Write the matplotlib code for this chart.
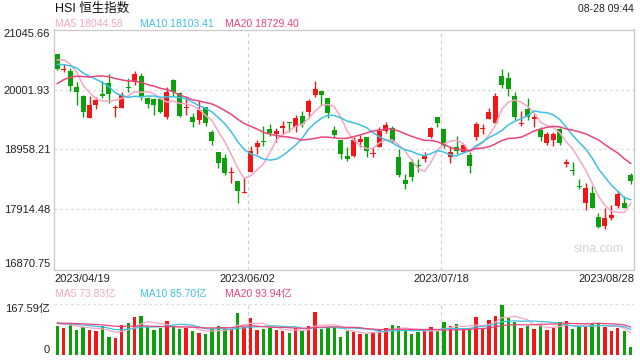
import matplotlib
matplotlib.use('Agg')
from matplotlib import pyplot as plt
import pandas as pd
import numpy as np

plt.rcParams['font.family'] = ['Liberation Sans', 'Noto Sans CJK SC', 'DejaVu Sans']

# HSI daily candles 2023/04/19 - 2023/08/28
opens = [20619, 20345, 20324, 20051, 19894, 19511, 19732, 19923, 20109, 19685,
         19685, 20040, 20127, 20237, 19859, 19836, 19836, 19518, 20167, 19935,
         19685, 19529, 19471, 19692, 19267, 18919, 18815, 18554, 18410, 18196,
         18566, 19006, 19106, 19314, 19227, 19337, 19436, 19354, 19541, 19616,
         19906, 19976, 19849, 19297, 19123, 18845, 18845, 19088, 19170, 18885,
         19006, 19285, 19337, 18832, 18427, 18746, 18676, 18792, 19170, 19518,
         19309, 18822, 18996, 18919, 18862, 19170, 19320, 19488, 19413, 20242,
         20196, 19889, 19405, 19657, 19483, 19297, 19065, 19123, 19314, 18706,
         18604, 18330, 18022, 18196, 17788, 17627, 17761, 17975, 18032, 18514]
highs = [20625, 20445, 20371, 20137, 19906, 19894, 19877, 20150, 20266, 19732,
         19953, 20197, 20324, 20284, 19877, 19859, 19859, 20050, 20184, 19963,
         19877, 19598, 19802, 19700, 19297, 18919, 18874, 18658, 18410, 18457,
         19019, 19123, 19367, 19396, 19327, 19454, 19436, 19558, 19633, 19831,
         20150, 19976, 19849, 19372, 19123, 18996, 19170, 19210, 19180, 18996,
         19355, 19436, 19367, 18961, 18526, 18792, 18792, 18909, 19355, 19529,
         19309, 18996, 19193, 19066, 18919, 19442, 19401, 19674, 19935, 20353,
         20311, 19963, 19633, 19849, 19575, 19355, 19267, 19267, 19327, 18792,
         18746, 18439, 18380, 18323, 17858, 17945, 17992, 18236, 18149, 18554]
lows = [20341, 20306, 19976, 19732, 19529, 19511, 19662, 19859, 19762, 19529,
        19675, 19963, 20080, 19819, 19685, 19558, 19587, 19488, 19894, 19529,
        19558, 19349, 19401, 19367, 19036, 18631, 18514, 18370, 18032, 18196,
        18566, 18879, 19019, 19193, 19093, 19227, 19267, 19267, 19344, 19501,
        19866, 19732, 19501, 19170, 18787, 18763, 18833, 18996, 18832, 18832,
        18996, 19239, 19076, 18474, 18270, 18415, 18571, 18735, 19152, 19355,
        18979, 18718, 18879, 18892, 18554, 19123, 19227, 19483, 19401, 20023,
        19889, 19471, 19367, 19471, 19355, 19111, 19036, 19019, 19036, 18648,
        18514, 18266, 17905, 17935, 17587, 17569, 17731, 17945, 17935, 18357]
closes = [20367, 20360, 20068, 19963, 19615, 19732, 19819, 19894, 19923, 19700,
          19906, 20025, 20266, 19866, 19749, 19732, 19605, 19963, 19953, 19546,
          19700, 19441, 19645, 19424, 19111, 18728, 18544, 18565, 18236, 18216,
          18932, 19065, 19090, 19250, 19280, 19367, 19413, 19506, 19401, 19802,
          20005, 19906, 19598, 19210, 18879, 18798, 19123, 19140, 18937, 18900,
          19280, 19384, 19111, 18514, 18357, 18484, 18668, 18850, 19327, 19414,
          19019, 18909, 18937, 19036, 18671, 19401, 19330, 19605, 19889, 20080,
          20005, 19518, 19415, 19529, 19529, 19180, 19227, 19227, 19076, 18746,
          18584, 18310, 18293, 17945, 17614, 17761, 17818, 18178, 17945, 18415]
# turnover, 亿
volumes = [95, 89, 104, 82, 93, 82, 79, 95, 60, 57,
           99, 106, 126, 128, 93, 82, 90, 112, 96, 86,
           89, 80, 73, 69, 85, 95, 86, 85, 139, 93,
           122, 82, 87, 90, 82, 80, 73, 89, 80, 95,
           142, 86, 90, 91, 60, 80, 77, 69, 69, 75,
           85, 89, 99, 95, 80, 69, 77, 79, 91, 79,
           109, 95, 102, 88, 86, 124, 88, 115, 128, 165,
           124, 109, 89, 95, 86, 104, 82, 90, 109, 112,
           86, 95, 91, 104, 106, 93, 79, 88, 79, 25]
# closes / turnover before 04/19, only used to warm up the moving averages
prev_closes = [19000, 19258, 19591, 19704, 19915, 19567, 19784, 20192, 20309, 20400,
               20409, 20275, 20332, 20485, 20309, 20344, 20439, 20650, 20780]
prev_volumes = [110, 105, 112, 100, 108, 104, 115, 102, 106, 110,
                104, 108, 100, 112, 106, 103, 109, 105, 107]

date_labels = ['2023/04/19', '2023/06/02', '2023/07/18', '2023/08/28']
y_ticks = [16870.75, 17914.48, 18958.21, 20001.93, 21045.66]
vol_max = 167.59

RED = '#f21616'
GREEN = '#0ca00c'
C5, C10, C20 = '#f7a6c4', '#3ec1e1', '#e8457a'

n = len(closes)
x = np.arange(n)
o = np.array(opens); c = np.array(closes)
up = c >= o
colors = np.where(up, RED, GREEN)

allc = pd.Series(prev_closes + closes)
allv = pd.Series(prev_volumes + volumes)
k = len(prev_closes)
ma = {w: allc.rolling(w).mean().values[k:] for w in (5, 10, 20)}
vma = {w: allv.rolling(w, min_periods=1).mean().values[k:] for w in (5, 10, 20)}

fig = plt.figure(figsize=(6.4, 3.6), dpi=100)
L = 54.3 / 640
W = (634.3 - 54.3) / 640
ax = fig.add_axes([L, 1 - 269.5 / 360, W, 240 / 360])
axv = fig.add_axes([L, 1 - 355 / 360, W, (355 - 304.3) / 360])

xlim = (-0.47, n - 1 + 0.56)
thirds = [xlim[0] + (xlim[1] - xlim[0]) * f for f in (1 / 3, 2 / 3)]

# candles
ax.vlines(x, lows, highs, colors=colors, linewidth=1, zorder=3)
body_bottom = np.minimum(o, c)
body_h = np.maximum(np.abs(c - o), 16)
ax.bar(x, body_h, bottom=body_bottom, width=0.78, color=colors, linewidth=0, zorder=4)

ax.plot(x, ma[5], color=C5, lw=1.1, zorder=5)
ax.plot(x, ma[10], color=C10, lw=1.1, zorder=5)
ax.plot(x, ma[20], color=C20, lw=1.1, zorder=5)

ax.set_xlim(*xlim)
ax.set_ylim(y_ticks[0], y_ticks[-1])
ax.set_yticks(y_ticks)
ax.set_yticklabels(['%.2f' % v for v in y_ticks])
ylabs = ax.get_yticklabels()
ylabs[0].set_va('bottom')
ylabs[-1].set_va('top')
ax.set_xticks([xlim[0], thirds[0], thirds[1], xlim[1]])
ax.set_xticklabels(date_labels)
xl = ax.get_xticklabels()
xl[0].set_ha('left')
xl[-1].set_ha('right')
ax.tick_params(axis='both', length=0, labelsize=8, colors='#222222', pad=3)
ax.tick_params(axis='x', pad=3)
for s in ax.spines.values():
    s.set_color('#cccccc')
    s.set_linewidth(1)
for yv in y_ticks[1:-1]:
    ax.axhline(yv, color='#dddddd', lw=1, ls=(0, (2, 2)), zorder=1)
for xv in thirds:
    ax.axvline(xv, color='#cccccc', lw=0.8, ls=(0, (3, 3)), zorder=1)
ax.text(0.982, 0.085, 'sina.com', transform=ax.transAxes, ha='right', va='center',
        fontsize=9, color='#d4d4d4')

# turnover
axv.bar(x, volumes, width=0.52, color=colors, linewidth=0, zorder=3)
axv.plot(x, vma[5], color=C5, lw=0.9, zorder=4)
axv.plot(x, vma[10], color=C10, lw=0.9, zorder=4)
axv.plot(x, vma[20], color=C20, lw=0.9, zorder=4)
axv.set_xlim(*xlim)
axv.set_ylim(0, vol_max)
axv.set_xticks([])
axv.set_yticks([0, vol_max])
axv.set_yticklabels(['0', '%.2f亿' % vol_max])
vl = axv.get_yticklabels()
vl[0].set_va('bottom')
vl[1].set_va('top')
axv.tick_params(axis='y', length=0, labelsize=8, colors='#222222', pad=3)
for s in axv.spines.values():
    s.set_visible(False)
axv.axhline(vol_max, color='#dddddd', lw=1, ls=(0, (2, 2)), zorder=1)
for xv in thirds:
    axv.axvline(xv, color='#cccccc', lw=0.8, ls=(0, (3, 3)), zorder=1)

# header texts
def px(xp, yp):
    return xp / 640, 1 - yp / 360

fig.text(*px(55, 8.5), 'HSI 恒生指数', fontsize=9, va='center', ha='left', color='#111111')
fig.text(*px(634, 8.5), '08-28 09:44', fontsize=7.5, va='center', ha='right', color='#222222')
fig.text(*px(55, 24), 'MA5 18044.58', fontsize=7.5, va='center', color=C5)
fig.text(*px(140, 24), 'MA10 18103.41', fontsize=7.5, va='center', color=C10)
fig.text(*px(225, 24), 'MA20 18729.40', fontsize=7.5, va='center', color=C20)
fig.text(*px(55, 294.5), 'MA5 73.83亿', fontsize=7.5, va='center', color=C5)
fig.text(*px(140, 294.5), 'MA10 85.70亿', fontsize=7.5, va='center', color=C10)
fig.text(*px(225, 294.5), 'MA20 93.94亿', fontsize=7.5, va='center', color=C20)

fig.savefig('out.png', dpi=100)
